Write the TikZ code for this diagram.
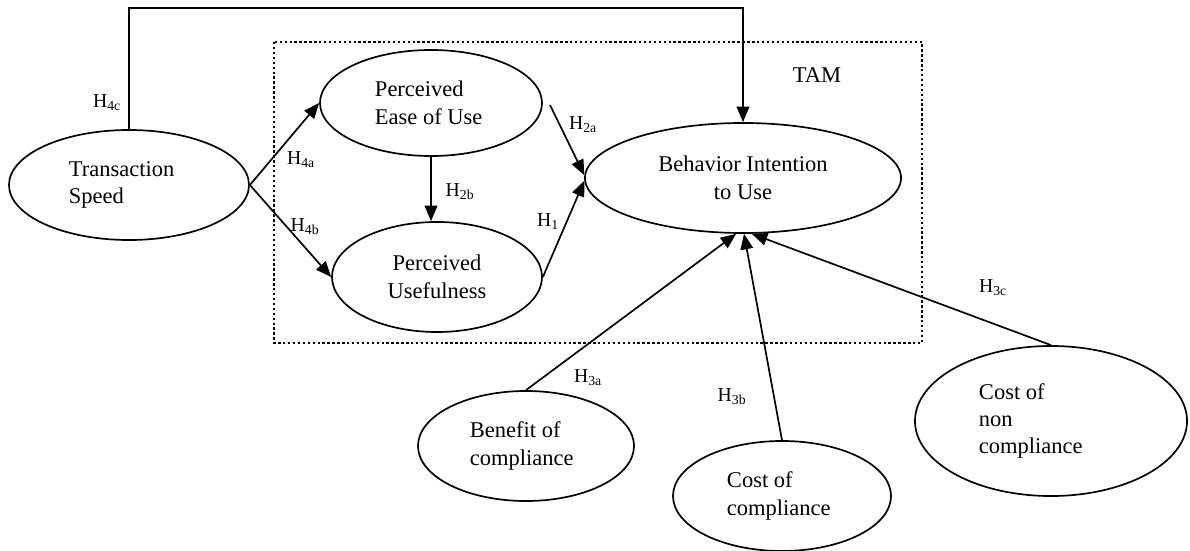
\documentclass[tikz,border=0pt]{standalone}
\usepackage{fontspec}
\setmainfont{Liberation Serif}
\usetikzlibrary{arrows.meta}
\usetikzlibrary{shapes.geometric}

\begin{document}
\begin{tikzpicture}[>={Triangle[length=11pt,width=9pt]},x=0.025cm,y=-0.025cm,
    construct/.style={draw,ellipse,line width=1.2pt,inner sep=0pt,align=flush left,font=\fontsize{16}{19.5}\selectfont},
    hyp/.style={font=\fontsize{14}{17}\selectfont},
    link/.style={->,line width=1.2pt}]
    \useasboundingbox (0,0) rectangle (1190,551);

    % Draw the TAM box
    \draw[line width=1.7pt,dash pattern=on 1.7pt off 1.8pt] (274,42) rectangle (922,343);
    \node[font=\fontsize{16}{19.5}\selectfont] (tam) at (817,75) {TAM};

    % Draw the constructs
    \node[construct,text width=3cm,minimum width=6cm,minimum height=2.75cm] (speed) at (129,185) {Transaction\\Speed};
    \node[construct,text width=2.8cm,minimum width=5.55cm,minimum height=2.65cm] (peou) at (431,103) {Perceived\\Ease of Use};
    \node[construct,align=center,minimum width=5.25cm,minimum height=2.75cm] (pu) at (437,277) {Perceived\\Usefulness};
    \node[construct,align=center,minimum width=7.9cm,minimum height=2.75cm] (bi) at (743,178) {Behavior Intention\\to Use};
    \node[construct,text width=2.8cm,minimum width=5.4cm,minimum height=2.75cm] (ben) at (526,446) {Benefit of\\compliance};
    \node[construct,text width=2.75cm,minimum width=5.45cm,minimum height=2.75cm] (cost) at (782,496) {Cost of\\compliance};
    \node[construct,text width=3.6cm,minimum width=6.8cm,minimum height=3.75cm] (non) at (1051,421) {Cost of\\non\\compliance};

    % Draw the paths
    \draw[link] (speed.east) -- (peou.west);
    \draw[link] (speed.east) -- (pu.west);
    \draw[link] (speed.north) -- (speed.north |- 0,8) -| (bi.north);
    \draw[link] (peou.south) -- (peou.south |- pu.north);
    \coordinate (h2a) at (550,105);
    \draw[link] (h2a) -- (bi.179);
    \draw[link] (pu.east) -- (bi.181);
    \draw[link] (ben.north) -- (bi.263);
    \draw[link] (cost.north) -- (bi.271);
    \draw[link] (non.north) -- (bi.279);

    % Hypotheses
    \node[hyp] (h4c) at (107,103) {H\textsubscript{4c}};
    \node[hyp] (h4a) at (301,160) {H\textsubscript{4a}};
    \node[hyp] (h4b) at (305,227) {H\textsubscript{4b}};
    \node[hyp] (h2b) at (460,192) {H\textsubscript{2b}};
    \node[hyp] (h2alabel) at (583,125) {H\textsubscript{2a}};
    \node[hyp] (h1) at (548,222) {H\textsubscript{1}};
    \node[hyp] (h3a) at (588,378) {H\textsubscript{3a}};
    \node[hyp] (h3b) at (732,397) {H\textsubscript{3b}};
    \node[hyp] (h3c) at (993,288) {H\textsubscript{3c}};
\end{tikzpicture}
\end{document}
